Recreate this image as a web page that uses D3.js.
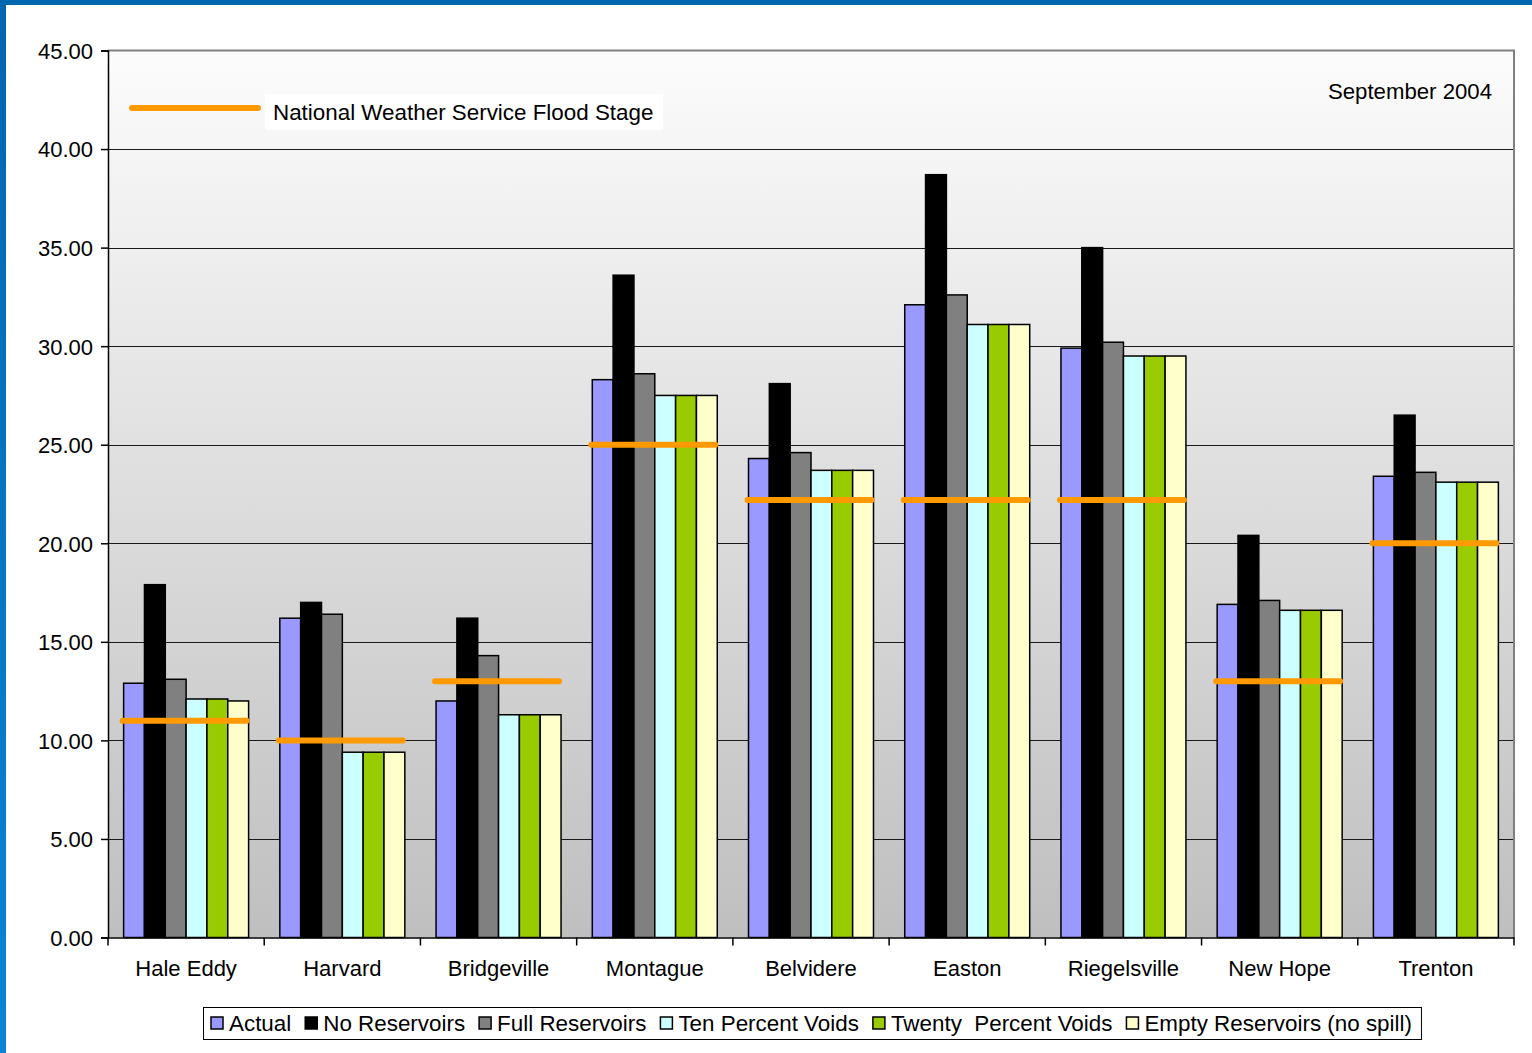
<!DOCTYPE html>
<html>
<head>
<meta charset="utf-8">
<script src="https://cdn.jsdelivr.net/npm/d3@7"></script>
<style>
  html, body { margin: 0; padding: 0; background: #fff; }
  svg { display: block; font-family: Arial, "Liberation Sans", sans-serif; }
</style>
</head>
<body>
<svg id="chart" width="1532" height="1053"></svg>
<script>
// Gauge locations along the Delaware River
const categories = ["Hale Eddy", "Harvard", "Bridgeville", "Montague", "Belvidere",
                    "Easton", "Riegelsville", "New Hope", "Trenton"];

// Peak stage (ft) for each scenario
const actual        = [12.9, 16.2, 12.0, 28.3, 24.3, 32.1, 29.9, 16.9, 23.4];
const noReservoirs  = [17.9, 17.0, 16.2, 33.6, 28.1, 38.7, 35.0, 20.4, 26.5];
const fullReservoirs= [13.1, 16.4, 14.3, 28.6, 24.6, 32.6, 30.2, 17.1, 23.6];
const tenPercent    = [12.1,  9.4, 11.3, 27.5, 23.7, 31.1, 29.5, 16.6, 23.1];
const twentyPercent = [12.1,  9.4, 11.3, 27.5, 23.7, 31.1, 29.5, 16.6, 23.1];
const emptyRes      = [12.0,  9.4, 11.3, 27.5, 23.7, 31.1, 29.5, 16.6, 23.1];

// National Weather Service flood stage at each gauge
const floodStage    = [11.0, 10.0, 13.0, 25.0, 22.2, 22.2, 22.2, 13.0, 20.0];

const seriesNames = ["Actual", "No Reservoirs", "Full Reservoirs", "Ten Percent Voids",
                     "Twenty  Percent Voids", "Empty Reservoirs (no spill)"];
const seriesValues = [actual, noReservoirs, fullReservoirs, tenPercent, twentyPercent, emptyRes];
const seriesColors = ["#9999ff", "#000000", "#808080", "#ccffff", "#99cc00", "#ffffcc"];

const yTicks = [0, 5, 10, 15, 20, 25, 30, 35, 40, 45];
const floodLabel = "National Weather Service Flood Stage";
const dateLabel = "September 2004";

const svg = d3.select("#chart");
const W = 1532, H = 1053;
const plot = { left: 108, right: 1514, top: 50.5, bottom: 937.5 };

const defs = svg.append("defs");
const bg = defs.append("linearGradient").attr("id", "plotBg")
  .attr("x1", 0).attr("y1", 0).attr("x2", 0).attr("y2", 1);
bg.append("stop").attr("offset", "0%").attr("stop-color", "#fcfcfc");
bg.append("stop").attr("offset", "100%").attr("stop-color", "#bfbfbf");

const frame = defs.append("linearGradient").attr("id", "frameBlue")
  .attr("x1", 0).attr("y1", 0).attr("x2", 0).attr("y2", 1);
frame.append("stop").attr("offset", "0%").attr("stop-color", "#0066ad");
frame.append("stop").attr("offset", "100%").attr("stop-color", "#0a84d8");

svg.append("rect").attr("width", W).attr("height", H).attr("fill", "#ffffff");
svg.append("rect").attr("x", 0).attr("y", 0).attr("width", W).attr("height", 5).attr("fill", "#0066ad");
svg.append("rect").attr("x", 0).attr("y", 0).attr("width", 6).attr("height", H).attr("fill", "url(#frameBlue)");

// Scales
const x0 = d3.scaleBand().domain(categories).range([plot.left, plot.right]).padding(0);
const x1 = d3.scaleBand().domain(d3.range(seriesNames.length))
  .range([0, x0.bandwidth()]).paddingInner(0).paddingOuter(0.75);
const y = d3.scaleLinear().domain([0, 45]).range([plot.bottom, plot.top]);

// Plot background
svg.append("rect")
  .attr("x", plot.left).attr("y", plot.top)
  .attr("width", plot.right - plot.left).attr("height", plot.bottom - plot.top)
  .attr("fill", "url(#plotBg)");

// Gridlines
svg.append("g").selectAll("line")
  .data(yTicks.filter(t => t > 0 && t < 45))
  .join("line")
  .attr("x1", plot.left).attr("x2", plot.right)
  .attr("y1", d => Math.round(y(d)) + 0.5).attr("y2", d => Math.round(y(d)) + 0.5)
  .attr("stroke", "#1a1a1a").attr("stroke-width", 1);

// Top and right plot border
svg.append("path")
  .attr("d", `M${plot.left},${plot.top}H${plot.right}V${plot.bottom}`)
  .attr("fill", "none").attr("stroke", "#808080").attr("stroke-width", 2);

// Flood-stage legend inside the plot
svg.append("line")
  .attr("x1", 132).attr("x2", 258).attr("y1", 108).attr("y2", 108)
  .attr("stroke", "#ff9900").attr("stroke-width", 6).attr("stroke-linecap", "round");
svg.append("rect").attr("x", 265).attr("y", 94).attr("width", 398).attr("height", 36).attr("fill", "#ffffff");
svg.append("text").attr("x", 273).attr("y", 120)
  .attr("font-size", 22.4).attr("fill", "#000").text(floodLabel);

svg.append("text").attr("x", 1492).attr("y", 99).attr("text-anchor", "end")
  .attr("font-size", 22.2).attr("fill", "#000").text(dateLabel);

// Bars
const groups = svg.append("g").selectAll("g")
  .data(categories)
  .join("g")
  .attr("transform", d => `translate(${x0(d)},0)`);

groups.selectAll("rect")
  .data((c, ci) => seriesValues.map((vals, si) => ({ si, v: vals[ci] })))
  .join("rect")
  .attr("x", d => x1(d.si))
  .attr("y", d => y(d.v))
  .attr("width", x1.bandwidth())
  .attr("height", d => y(0) - y(d.v))
  .attr("fill", d => seriesColors[d.si])
  .attr("stroke", "#000").attr("stroke-width", 1.5);

// Flood-stage markers
svg.append("g").selectAll("line")
  .data(categories)
  .join("line")
  .attr("x1", d => x0(d) + x1(0) - 1)
  .attr("x2", d => x0(d) + x1(seriesNames.length - 1) + x1.bandwidth() - 2)
  .attr("y1", (d, i) => y(floodStage[i]))
  .attr("y2", (d, i) => y(floodStage[i]))
  .attr("stroke", "#ff9900").attr("stroke-width", 6).attr("stroke-linecap", "round");

// Y axis
const yAxis = svg.append("g")
  .attr("transform", `translate(${plot.left},0)`)
  .call(d3.axisLeft(y).tickValues(yTicks).tickFormat(d3.format(".2f")).tickSize(7).tickPadding(8));
yAxis.select(".domain").attr("stroke", "#000").attr("stroke-width", 1.5);
yAxis.selectAll(".tick line").attr("stroke", "#000").attr("stroke-width", 1.5);
yAxis.selectAll("text").attr("font-size", 22).attr("font-family", "Arial, 'Liberation Sans', sans-serif")
  .attr("fill", "#000").attr("dy", "0.36em");

// X axis: labels centered on groups, ticks on group boundaries
const xAxis = svg.append("g")
  .attr("transform", `translate(0,${plot.bottom})`)
  .call(d3.axisBottom(x0).tickSize(0).tickPadding(23));
xAxis.select(".domain").attr("stroke", "#000").attr("stroke-width", 1.5);
xAxis.selectAll("text").attr("font-size", 22).attr("font-family", "Arial, 'Liberation Sans', sans-serif").attr("fill", "#000");
xAxis.selectAll(".boundary")
  .data(categories.map(c => x0(c)).concat([plot.right]))
  .join("line")
  .attr("class", "boundary")
  .attr("x1", d => d).attr("x2", d => d)
  .attr("y1", 0).attr("y2", 8)
  .attr("stroke", "#000").attr("stroke-width", 1.5);

// Series legend
const legend = svg.append("g");
const legBox = legend.append("rect")
  .attr("fill", "#ffffff").attr("stroke", "#000").attr("stroke-width", 1);
let lx = 211;
const ly = 1023;
const items = legend.selectAll("g.item")
  .data(seriesNames)
  .join("g").attr("class", "item");
items.each(function (name, i) {
  const g = d3.select(this);
  g.append("rect")
    .attr("x", lx).attr("y", ly - 6).attr("width", 12).attr("height", 12)
    .attr("fill", seriesColors[i]).attr("stroke", "#000").attr("stroke-width", 1.5);
  const t = g.append("text")
    .attr("x", lx + 18).attr("y", ly + 8)
    .attr("font-size", 22.4).attr("fill", "#000")
    .attr("xml:space", "preserve")
    .style("white-space", "pre")
    .text(name);
  lx += 18 + t.node().getComputedTextLength() + 14;
});
legBox.attr("x", 203.5).attr("y", 1007.5).attr("width", lx - 203 - 5).attr("height", 32);
</script>
</body>
</html>
